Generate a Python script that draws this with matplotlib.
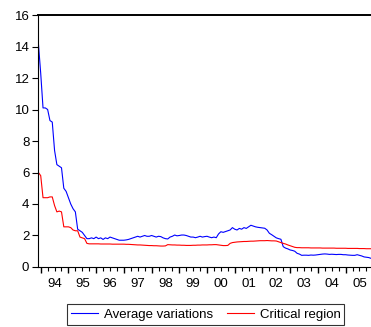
import numpy as np
import matplotlib
matplotlib.use("Agg")
import matplotlib.pyplot as plt
from matplotlib.ticker import FixedLocator, NullFormatter

plt.rcParams['font.family'] = ['Liberation Sans', 'DejaVu Sans']

# monthly observations, 1993M12 .. 2005M12
avg_variations = [
    14.2,
    12.3, 10.1, 10.1, 10.0, 9.3, 9.2, 7.4, 6.5, 6.4, 6.3, 5.0, 4.8,
    4.4, 4.0, 3.7, 3.5, 2.4, 2.3, 2.2, 2.0, 1.8, 1.8, 1.85, 1.8,
    1.9, 1.8, 1.85, 1.75, 1.85, 1.8, 1.9, 1.85, 1.8, 1.75, 1.7, 1.7,
    1.7, 1.72, 1.75, 1.8, 1.85, 1.9, 1.95, 1.9, 1.95, 2.0, 1.95, 1.95,
    2.0, 1.95, 1.9, 1.95, 1.93, 1.85, 1.8, 1.78, 1.9, 1.95, 2.03, 1.98,
    2.0, 2.03, 2.03, 2.0, 1.95, 1.9, 1.9, 1.86, 1.9, 1.95, 1.9, 1.93,
    1.95, 1.9, 1.86, 1.9, 1.86, 2.1, 2.24, 2.2, 2.25, 2.3, 2.35, 2.5,
    2.4, 2.35, 2.45, 2.4, 2.5, 2.45, 2.55, 2.65, 2.6, 2.55, 2.52, 2.5,
    2.48, 2.46, 2.35, 2.14, 2.05, 1.95, 1.85, 1.8, 1.76, 1.29, 1.2, 1.15,
    1.08, 1.05, 1.0, 0.87, 0.82, 0.74, 0.75, 0.75, 0.74, 0.76, 0.75, 0.76,
    0.78, 0.8, 0.82, 0.83, 0.82, 0.8, 0.81, 0.8, 0.79, 0.8, 0.8, 0.78,
    0.78, 0.76, 0.75, 0.74, 0.74, 0.78, 0.74, 0.7, 0.64, 0.62, 0.6, 0.55,
]
critical_region = [
    6.0,
    5.8, 4.4, 4.4, 4.4, 4.45, 4.45, 3.9, 3.5, 3.55, 3.5, 2.55, 2.55,
    2.55, 2.5, 2.35, 2.3, 2.3, 1.9, 1.85, 1.8, 1.5, 1.47, 1.47, 1.47,
    1.47, 1.47, 1.46, 1.46, 1.46, 1.46, 1.46, 1.45, 1.45, 1.45, 1.45, 1.45,
    1.45, 1.44, 1.44, 1.43, 1.42, 1.41, 1.4, 1.4, 1.39, 1.38, 1.37, 1.36,
    1.36, 1.35, 1.35, 1.34, 1.33, 1.33, 1.34, 1.42, 1.41, 1.4, 1.4, 1.39,
    1.39, 1.38, 1.38, 1.37, 1.37, 1.37, 1.38, 1.38, 1.39, 1.39, 1.4, 1.4,
    1.4, 1.41, 1.41, 1.42, 1.42, 1.4, 1.38, 1.36, 1.36, 1.37, 1.5, 1.55,
    1.57, 1.59, 1.6, 1.61, 1.62, 1.62, 1.63, 1.64, 1.64, 1.65, 1.66, 1.67,
    1.67, 1.67, 1.68, 1.67, 1.66, 1.66, 1.65, 1.6, 1.55, 1.5, 1.46, 1.4,
    1.35, 1.3, 1.25, 1.23, 1.23, 1.22, 1.22, 1.22, 1.22, 1.21, 1.21, 1.21,
    1.21, 1.21, 1.2, 1.2, 1.2, 1.2, 1.2, 1.2, 1.19, 1.19, 1.19, 1.19,
    1.19, 1.18, 1.18, 1.18, 1.18, 1.18, 1.17, 1.17, 1.17, 1.16, 1.16, 1.16,
]
year_labels = ['94', '95', '96', '97', '98', '99', '00', '01', '02', '03', '04', '05']

t = np.arange(len(avg_variations))   # month index, 0 = 1993M12

fig = plt.figure(figsize=(3.71, 3.27), dpi=100)
ax = fig.add_axes([0.1035, 0.1835, 0.8965, 0.7706])

ax.plot(t, avg_variations, color='#0000ff', lw=0.8, label='Average variations')
ax.plot(t, critical_region, color='#ff0000', lw=0.8, label='Critical region')

ax.set_xlim(0, len(t) - 1)
ax.set_ylim(0, 16)
ax.set_yticks(np.arange(0, 17, 2))

# year boundaries (long ticks), quarters (short ticks), labels mid-year
year_starts = [1 + 12 * k for k in range(len(year_labels))]
quarter_ticks = [1 + 3 * k for k in range(len(year_labels) * 4)]
ax.xaxis.set_major_locator(FixedLocator(year_starts))
ax.xaxis.set_major_formatter(NullFormatter())
ax.xaxis.set_minor_locator(FixedLocator([q for q in quarter_ticks if q not in year_starts]))
ax.tick_params(axis='x', which='major', length=4.5, width=1.0, direction='out')
ax.tick_params(axis='x', which='minor', length=3, width=0.8, direction='out')
for k, lab in enumerate(year_labels):
    ax.text(year_starts[k] + 6, -0.7, lab, ha='center', va='top', fontsize=9.5,
            transform=ax.transData)

ax.tick_params(axis='y', length=4.5, width=0.8, labelsize=9.5, pad=2)

ax.spines['right'].set_visible(False)
for s in ['left', 'bottom']:
    ax.spines[s].set_linewidth(0.8)
ax.spines['top'].set_linewidth(1.4)

leg = fig.legend(loc='center', bbox_to_anchor=(0.555, 0.038), ncol=2, fontsize=9.5,
                 frameon=True, fancybox=False, edgecolor='black', handlelength=2.0,
                 handletextpad=0.45, columnspacing=1.1, borderpad=0.3,
                 borderaxespad=0.0)
leg.get_frame().set_linewidth(0.8)

fig.savefig('out.png', dpi=100)
